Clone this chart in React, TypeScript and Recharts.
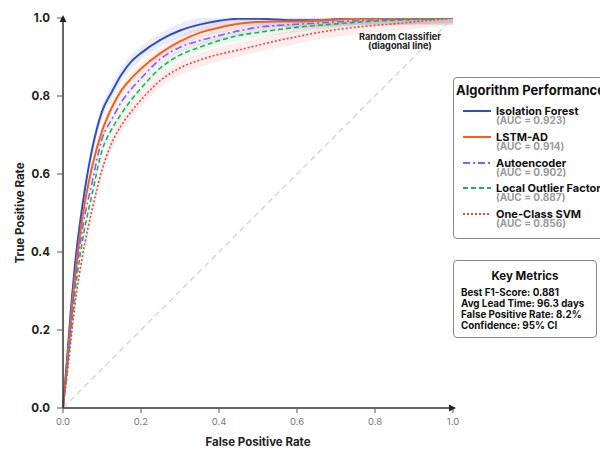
import React from 'react';
import { ComposedChart, Line, Area, XAxis, YAxis, ReferenceLine, ReferenceDot } from 'recharts';

const fpr = [0, 0.01, 0.02, 0.03, 0.05, 0.075, 0.1, 0.125, 0.15, 0.175, 0.2, 0.25, 0.3, 0.35, 0.4, 0.45, 0.5, 0.55, 0.6, 0.65, 0.7, 0.75, 0.8, 0.85, 0.9, 0.95, 1];

const isolationForest = [0, 0.12, 0.25, 0.36, 0.52, 0.665, 0.76, 0.81, 0.855, 0.888, 0.91, 0.944, 0.968, 0.983, 0.993, 0.998, 0.998, 0.996, 0.994, 0.994, 0.997, 1.0, 1.0, 0.999, 0.999, 1.0, 1.0];
const lstmAD = [0, 0.11, 0.23, 0.33, 0.49, 0.62, 0.71, 0.77, 0.815, 0.845, 0.87, 0.91, 0.94, 0.962, 0.975, 0.985, 0.99, 0.991, 0.991, 0.993, 0.996, 0.998, 0.999, 0.998, 0.998, 0.999, 1.0];
const autoencoder = [0, 0.1, 0.21, 0.31, 0.46, 0.58, 0.69, 0.74, 0.785, 0.818, 0.845, 0.895, 0.925, 0.942, 0.955, 0.967, 0.976, 0.981, 0.984, 0.987, 0.99, 0.993, 0.995, 0.996, 0.997, 0.998, 1.0];
const localOutlierFactor = [0, 0.09, 0.19, 0.29, 0.43, 0.55, 0.66, 0.715, 0.755, 0.79, 0.82, 0.872, 0.905, 0.925, 0.942, 0.955, 0.963, 0.97, 0.976, 0.981, 0.985, 0.989, 0.992, 0.994, 0.996, 0.998, 1.0];
const oneClassSVM = [0, 0.08, 0.17, 0.26, 0.39, 0.51, 0.61, 0.68, 0.725, 0.76, 0.79, 0.84, 0.872, 0.892, 0.907, 0.918, 0.93, 0.942, 0.952, 0.962, 0.97, 0.976, 0.981, 0.985, 0.99, 0.995, 1.0];

const seriesNames = ['Isolation Forest', 'LSTM-AD', 'Autoencoder', 'Local Outlier Factor', 'One-Class SVM'];
const seriesValues = [isolationForest, lstmAD, autoencoder, localOutlierFactor, oneClassSVM];
const aucValues = ['0.923', '0.914', '0.902', '0.887', '0.856'];
const ciHalfWidths = [0.018, 0.014, 0.012, 0.012, 0.018];

const colors = ['#2f4fc4', '#f2621f', '#8b5cf6', '#27ae4f', '#ef4444'];
const dashes = ['', '', '7 3 2 3', '5 3', '2 2'];
const widths = [2, 2, 1.6, 1.6, 1.6];

const xTicks = [0, 0.2, 0.4, 0.6, 0.8, 1.0];
const yTicks = [0, 0.2, 0.4, 0.6, 0.8, 1.0];

const metricTitle = 'Key Metrics';
const metricLines = ['Best F1-Score: 0.881', 'Avg Lead Time: 96.3 days', 'False Positive Rate: 8.2%', 'Confidence: 95% CI'];

const rows = fpr.map((x, i) => {
  const r: any = { x };
  seriesValues.forEach((vals, s) => {
    const v = vals[i];
    r['s' + s] = v;
    r['b' + s] = [Math.max(0, v - ciHalfWidths[s]), Math.min(1.01, v + ciHalfWidths[s])];
  });
  return r;
});

const FONT = 'Inter, "Noto Sans", sans-serif';

const YTick = (props: any) => {
  const { x, y, payload } = props;
  return (
    <text x={x} y={y} dy="0.35em" textAnchor="end" fontSize={11.5} fontWeight={700} fill="#222" fontFamily={FONT}>
      {payload.value.toFixed(1)}
    </text>
  );
};
const XTick = (props: any) => {
  const { x, y, payload } = props;
  return (
    <text x={x} y={y} dy="0.71em" textAnchor="middle" fontSize={9.5} fill="#777" fontFamily={FONT}>
      {payload.value.toFixed(1)}
    </text>
  );
};

export default function App() {
  return (
    <div style={{ position: 'absolute', left: 0, top: 0, width: 600, height: 450, overflow: 'hidden', background: '#fff', fontFamily: FONT }}>
      <ComposedChart width={600} height={450} data={rows} margin={{ top: 18, right: 147, bottom: 12, left: 0 }}>
        <XAxis
          dataKey="x"
          type="number"
          domain={[0, 1]}
          ticks={xTicks}
          tick={<XTick />}
          tickLine={{ stroke: '#555' }}
          axisLine={{ stroke: '#333', strokeWidth: 1.5 }}
          tickSize={5}
          tickMargin={5}
          height={30}
          label={(p: any) => {
            const vb = p.viewBox;
            return (
              <text x={vb.x + vb.width / 2} y={442} dy="0.35em" textAnchor="middle" fontSize={11.5} fontWeight={700} fill="#222" fontFamily={FONT}>
                False Positive Rate
              </text>
            );
          }}
        />
        <YAxis
          type="number"
          domain={[0, 1]}
          ticks={yTicks}
          tick={<YTick />}
          tickLine={{ stroke: '#555' }}
          axisLine={{ stroke: '#333', strokeWidth: 1.5 }}
          tickSize={6}
          tickMargin={7}
          width={63}
          allowDataOverflow
          label={(p: any) => {
            const vb = p.viewBox;
            const cx = 20;
            const cy = vb.y + vb.height / 2;
            return (
              <text x={cx} y={cy} dy="0.35em" textAnchor="middle" transform={`rotate(-90 ${cx} ${cy})`} fontSize={11.5} fontWeight={700} fill="#222" fontFamily={FONT}>
                True Positive Rate
              </text>
            );
          }}
        />
        {seriesNames.map((n, s) => (
          <Area
            key={'band' + s}
            dataKey={'b' + s}
            type="monotone"
            stroke="none"
            fill={colors[s]}
            fillOpacity={0.1}
            isAnimationActive={false}
            activeDot={false}
          />
        ))}
        <ReferenceLine
          segment={[{ x: 0, y: 0 }, { x: 1, y: 1 }]}
          stroke="#cfcfcf"
          strokeWidth={1.2}
          strokeDasharray="6 4"
        />
        {seriesNames.map((n, s) => (
          <Line
            key={'line' + s}
            dataKey={'s' + s}
            name={n}
            type="monotone"
            stroke={colors[s]}
            strokeWidth={widths[s]}
            strokeDasharray={dashes[s] || undefined}
            dot={false}
            activeDot={false}
            isAnimationActive={false}
          />
        ))}
        <ReferenceDot
          x={0.864}
          y={0.952}
          r={0}
          ifOverflow="visible"
          shape={(p: any) => (
            <g>
              <text x={p.cx} y={p.cy} dy="0.35em" textAnchor="middle" fontSize={9.2} fontWeight={700} fill="#222" fontFamily={FONT}>
                Random Classifier
              </text>
              <text x={p.cx} y={p.cy + 9.5} dy="0.35em" textAnchor="middle" fontSize={9.2} fontWeight={700} fill="#222" fontFamily={FONT}>
                (diagonal line)
              </text>
            </g>
          )}
        />
        <ReferenceDot
          x={0}
          y={1}
          r={0}
          ifOverflow="visible"
          shape={(p: any) => <path d={`M${p.cx - 3.5},${p.cy + 4} L${p.cx},${p.cy - 3} L${p.cx + 3.5},${p.cy + 4} Z`} fill="#222" />}
        />
        <ReferenceDot
          x={1}
          y={0}
          r={0}
          ifOverflow="visible"
          shape={(p: any) => <path d={`M${p.cx - 4},${p.cy - 3.5} L${p.cx + 3},${p.cy} L${p.cx - 4},${p.cy + 3.5} Z`} fill="#222" />}
        />
      </ComposedChart>

      <div style={{ position: 'absolute', left: 453, top: 77, width: 170, height: 162, border: '1px solid #888', borderRadius: 4, background: '#fff', boxSizing: 'border-box' }}>
        <div style={{ position: 'absolute', left: 2, top: 5, fontSize: 13, fontWeight: 700, color: '#111', whiteSpace: 'nowrap', lineHeight: '14px' }}>
          Algorithm Performance
        </div>
        {seriesNames.map((n, s) => (
          <div key={n} style={{ position: 'absolute', left: 0, top: 26 + s * 25.8, width: 170, height: 24 }}>
            <svg width={30} height={6} style={{ position: 'absolute', left: 9, top: 4 }}>
              <line x1={0} y1={3} x2={28} y2={3} stroke={colors[s]} strokeWidth={2} strokeDasharray={dashes[s] || undefined} />
            </svg>
            <div style={{ position: 'absolute', left: 42, top: 2, fontSize: 11, fontWeight: 700, color: '#111', whiteSpace: 'nowrap', lineHeight: '10px' }}>{n}</div>
            <div style={{ position: 'absolute', left: 42, top: 12, fontSize: 10, fontWeight: 700, color: '#9a9a9a', whiteSpace: 'nowrap', lineHeight: '9px' }}>
              (AUC = {aucValues[s]})
            </div>
          </div>
        ))}
      </div>

      <div style={{ position: 'absolute', left: 453, top: 260, width: 144, height: 78, border: '1px solid #888', borderRadius: 4, background: '#fff', boxSizing: 'border-box' }}>
        <div style={{ position: 'absolute', left: 0, width: 142, top: 9, textAlign: 'center', fontSize: 11.5, fontWeight: 700, color: '#111', lineHeight: '13px' }}>{metricTitle}</div>
        {metricLines.map((m, i) => (
          <div key={m} style={{ position: 'absolute', left: 7, top: 26 + i * 11.1, fontSize: 9.8, fontWeight: 700, color: '#111', whiteSpace: 'nowrap', lineHeight: '11px' }}>{m}</div>
        ))}
      </div>
    </div>
  );
}
